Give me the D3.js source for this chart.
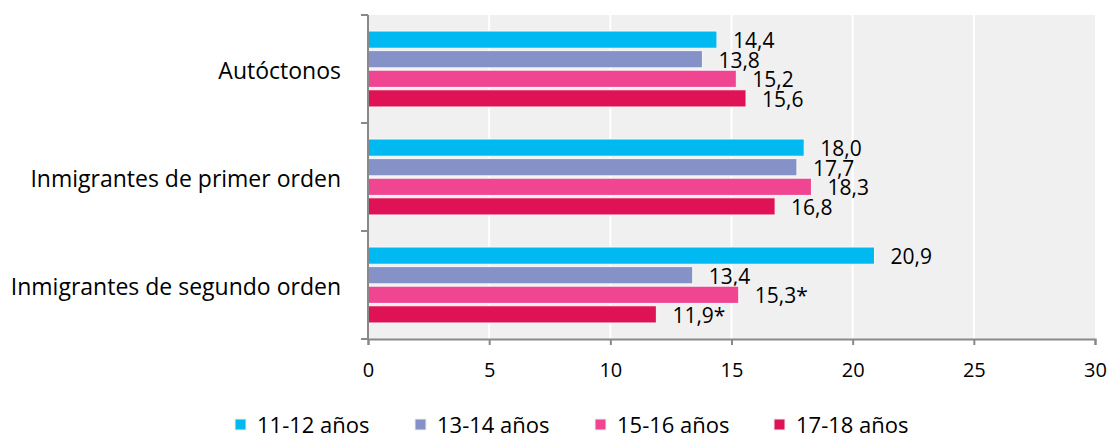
<!DOCTYPE html>
<html>
<head>
<meta charset="utf-8">
<script src="https://d3js.org/d3.v7.min.js"></script>
<style>
  body { margin: 0; background: #fff; }
  text { font-family: "Open Sans", Lato, sans-serif; fill: #000; }
</style>
</head>
<body>
<svg id="chart" width="1110" height="434"></svg>
<script>
// chart data
var categories = ["Autóctonos", "Inmigrantes de primer orden", "Inmigrantes de segundo orden"];
var seriesNames = ["11-12 años", "13-14 años", "15-16 años", "17-18 años"];
var seriesColors = ["#00b9f1", "#8492c8", "#f04692", "#e01256"];
var values = [
  [14.4, 13.8, 15.2, 15.6],
  [18.0, 17.7, 18.3, 16.8],
  [20.9, 13.4, 15.3, 11.9]
];
var valueLabels = [
  ["14,4", "13,8", "15,2", "15,6"],
  ["18,0", "17,7", "18,3", "16,8"],
  ["20,9", "13,4", "15,3*", "11,9*"]
];
var xTicks = [0, 5, 10, 15, 20, 25, 30];

var svg = d3.select("#chart");
var plotL = 368, plotR = 1095, plotT = 15, plotB = 339;

var x = d3.scaleLinear().domain([0, 30]).range([plotL, plotR]);
var y = d3.scaleBand().domain(categories).range([plotT, plotB]);
var ySub = d3.scaleBand().domain(seriesNames).range([16, y.bandwidth() - 16]).paddingInner(0.12);

// background
svg.append("rect")
  .attr("x", plotL).attr("y", plotT)
  .attr("width", plotR - plotL).attr("height", plotB - plotT)
  .attr("fill", "#f0f0f0");

// gridlines
svg.append("g").selectAll("line")
  .data(xTicks.slice(1, -1))
  .enter().append("line")
  .attr("x1", function(d){ return x(d); }).attr("x2", function(d){ return x(d); })
  .attr("y1", plotT).attr("y2", plotB)
  .attr("stroke", "#fff").attr("stroke-width", 2);

// bars
var groups = svg.append("g").selectAll("g")
  .data(categories)
  .enter().append("g")
  .attr("transform", function(d){ return "translate(0," + y(d) + ")"; });

groups.each(function(cat, ci) {
  var g = d3.select(this);
  seriesNames.forEach(function(s, si) {
    var v = values[ci][si];
    g.append("rect")
      .attr("x", x(0))
      .attr("y", ySub(s))
      .attr("width", x(v) - x(0))
      .attr("height", ySub.bandwidth())
      .attr("fill", seriesColors[si])
      .attr("stroke", "#f8f8f8").attr("stroke-width", 1);
    g.append("text")
      .attr("x", x(v) + 16)
      .attr("y", ySub(s) + ySub.bandwidth() / 2 + 1)
      .attr("dy", "0.35em")
      .attr("font-size", 21)
      .text(valueLabels[ci][si]);
  });
});

// x axis
var xAxis = d3.axisBottom(x).tickValues(xTicks).tickSize(6).tickPadding(18);
var gx = svg.append("g").attr("transform", "translate(0," + plotB + ")").call(xAxis);
gx.select(".domain").attr("stroke", "#898989").attr("stroke-width", 2);
gx.selectAll(".tick line").attr("stroke", "#898989").attr("stroke-width", 2);
gx.selectAll(".tick text").attr("font-size", 20).attr("font-family", "'Open Sans', sans-serif").attr("fill", "#000");

// y axis
var yEdges = [plotT].concat(categories.map(function(c){ return y(c) + y.step(); }));
svg.append("line")
  .attr("x1", plotL).attr("x2", plotL).attr("y1", plotT).attr("y2", plotB)
  .attr("stroke", "#898989").attr("stroke-width", 2);
svg.append("g").selectAll("line")
  .data(yEdges)
  .enter().append("line")
  .attr("x1", plotL - 7).attr("x2", plotL)
  .attr("y1", function(d){ return d; }).attr("y2", function(d){ return d; })
  .attr("stroke", "#898989").attr("stroke-width", 2);

svg.append("g").selectAll("text")
  .data(categories)
  .enter().append("text")
  .attr("x", 341)
  .attr("y", function(d){ return y(d) + y.bandwidth() / 2 + 2; })
  .attr("dy", "0.35em")
  .attr("text-anchor", "end")
  .attr("font-size", 23)
  .text(function(d){ return d; });

// legend
var legendX = [235, 415, 595, 774];
var legend = svg.append("g").selectAll("g")
  .data(seriesNames)
  .enter().append("g")
  .attr("transform", function(d, i){ return "translate(" + legendX[i] + ",425)"; });
legend.append("rect")
  .attr("x", 0).attr("y", -6).attr("width", 11).attr("height", 11)
  .attr("fill", function(d, i){ return seriesColors[i]; })
  .attr("stroke", "#eee").attr("stroke-width", 1);
legend.append("text")
  .attr("x", 22)
  .attr("y", 0).attr("dy", "0.35em")
  .attr("font-size", 22)
  .text(function(d){ return d; });
</script>
</body>
</html>
